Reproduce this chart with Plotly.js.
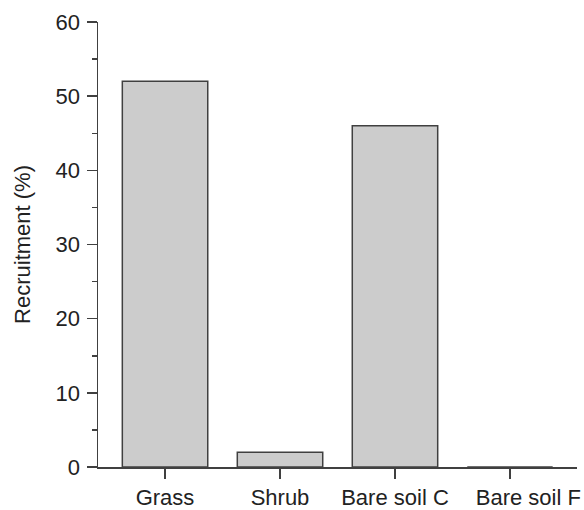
<!DOCTYPE html>
<html>
<head>
<meta charset="utf-8">
<script src="https://cdn.plot.ly/plotly-3.0.1.min.js"></script>
<style>html,body{margin:0;padding:0;background:#fff;}#chart{width:584px;height:510px;}</style>
</head>
<body>
<div id="chart"></div>
<script>
const categories = ["Grass", "Shrub", "Bare soil C", "Bare soil F"];
const tickLabels = ["Grass", "Shrub", "Bare soil C", "\u00a0\u00a0\u00a0\u00a0\u00a0\u00a0Bare soil F"];
const recruitment = [52, 2, 46, 0];
const yTickValues = [0, 10, 20, 30, 40, 50, 60];

const trace = {
  type: "bar",
  x: categories,
  y: recruitment,
  width: 0.743,
  marker: {color: "#cccccc", line: {color: "#404040", width: 1.5}},
  hoverinfo: "skip"
};

const layout = {
  width: 584, height: 510,
  margin: {l: 98, r: 7, t: 22, b: 43, pad: 0},
  paper_bgcolor: "#ffffff", plot_bgcolor: "#ffffff",
  showlegend: false,
  font: {family: "Liberation Sans, Arial, sans-serif", color: "#222222", size: 22},
  xaxis: {
    type: "category",
    range: [-0.583, 3.583],
    tickmode: "array", tickvals: categories, ticktext: tickLabels,
    tickangle: 0, automargin: false,
    showline: true, linecolor: "#404040", linewidth: 1.5,
    ticks: "outside", ticklen: 10, tickwidth: 1.5, tickcolor: "#404040",
    showgrid: false, zeroline: false,
    tickfont: {size: 22, color: "#222222"}
  },
  yaxis: {
    range: [0, 60],
    tickvals: yTickValues,
    showline: true, linecolor: "#404040", linewidth: 1.5,
    ticks: "outside", ticklen: 10, tickwidth: 1.5, tickcolor: "#404040",
    ticklabelstandoff: 2,
    minor: {dtick: 5, ticks: "outside", ticklen: 5, tickwidth: 1.5, tickcolor: "#404040", showgrid: false},
    showgrid: false, zeroline: false,
    tickfont: {size: 22, color: "#222222"},
    title: {text: "Recruitment (%)", font: {size: 22, color: "#222222"}, standoff: 19}
  },
  bargap: 0.257
};

Plotly.newPlot("chart", [trace], layout, {displayModeBar: false, staticPlot: true});
</script>
</body>
</html>
